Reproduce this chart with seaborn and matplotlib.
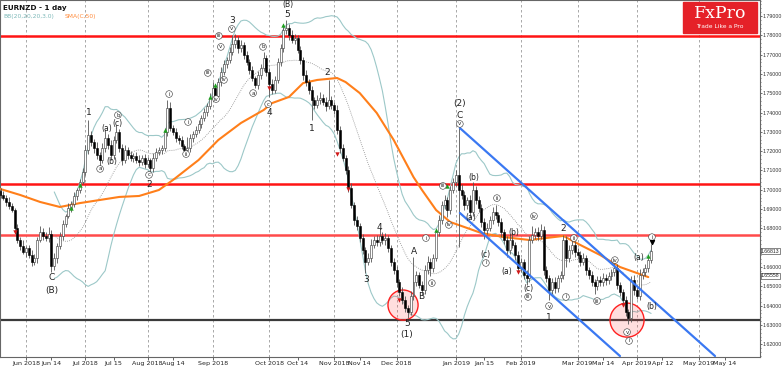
import numpy as np
import pandas as pd
import matplotlib
matplotlib.use("Agg")
import matplotlib.pyplot as plt
from matplotlib.patches import Rectangle
from matplotlib.ticker import MultipleLocator, FuncFormatter
import seaborn as sns

# daily closes EURNZD, 21 May 2018 .. 8 Apr 2019
closes = [
    1.6973, 1.6957, 1.6937, 1.6916, 1.6895, 1.6802, 1.6740, 1.6709, 1.6678, 1.6698,
    1.6662, 1.6626, 1.6647, 1.6740, 1.6781, 1.6761, 1.6750, 1.6771, 1.6605, 1.6647,
    1.6709, 1.6761, 1.6823, 1.6864, 1.6906, 1.6926, 1.6968, 1.6999, 1.7040, 1.7092,
    1.7206, 1.7284, 1.7247, 1.7216, 1.7180, 1.7154, 1.7216, 1.7268, 1.7232, 1.7180,
    1.7258, 1.7299, 1.7216, 1.7154, 1.7206, 1.7180, 1.7165, 1.7175, 1.7154, 1.7144,
    1.7165, 1.7133, 1.7154, 1.7113, 1.7165, 1.7196, 1.7206, 1.7216, 1.7299, 1.7424,
    1.7320, 1.7299, 1.7268, 1.7258, 1.7227, 1.7206, 1.7216, 1.7268, 1.7289, 1.7310,
    1.7341, 1.7372, 1.7403, 1.7434, 1.7475, 1.7527, 1.7486, 1.7558, 1.7610, 1.7651,
    1.7672, 1.7714, 1.7755, 1.7776, 1.7734, 1.7750, 1.7698, 1.7662, 1.7620, 1.7579,
    1.7543, 1.7594, 1.7631, 1.7683, 1.7610, 1.7548, 1.7517, 1.7569, 1.7662, 1.7734,
    1.7828, 1.7838, 1.7802, 1.7776, 1.7786, 1.7724, 1.7672, 1.7594, 1.7558, 1.7517,
    1.7465, 1.7439, 1.7465, 1.7475, 1.7455, 1.7434, 1.7465, 1.7439, 1.7413, 1.7310,
    1.7216, 1.7165, 1.7102, 1.7009, 1.6921, 1.6843, 1.6812, 1.6750, 1.6688, 1.6626,
    1.6647, 1.6714, 1.6740, 1.6729, 1.6761, 1.6740, 1.6750, 1.6698, 1.6626, 1.6584,
    1.6522, 1.6470, 1.6429, 1.6388, 1.6367, 1.6450, 1.6522, 1.6558, 1.6507, 1.6481,
    1.6584, 1.6626, 1.6595, 1.6647, 1.6781, 1.6843, 1.6921, 1.6947, 1.6895, 1.6999,
    1.7040, 1.7076, 1.6999, 1.6973, 1.6921, 1.6947, 1.6885, 1.6999, 1.6947, 1.6906,
    1.6833, 1.6792, 1.6802, 1.6843, 1.6885, 1.6869, 1.6833, 1.6781, 1.6740, 1.6688,
    1.6740, 1.6714, 1.6662, 1.6595, 1.6626, 1.6558, 1.6543, 1.6740, 1.6766, 1.6781,
    1.6761, 1.6792, 1.6584, 1.6543, 1.6481, 1.6522, 1.6491, 1.6543, 1.6558, 1.6740,
    1.6647, 1.6688, 1.6714, 1.6678, 1.6662, 1.6626, 1.6647, 1.6584, 1.6558, 1.6522,
    1.6502, 1.6533, 1.6522, 1.6543, 1.6533, 1.6553, 1.6574, 1.6595, 1.6507, 1.6470,
    1.6429, 1.6367, 1.6336, 1.6533, 1.6481, 1.6450, 1.6558, 1.6574, 1.6595, 1.6636,
    1.6681,
]
open0 = 1.6995

# wick lengths above / below the body, in pips
up_wick = [
    12, 20, 15, 25, 18, 10, 22, 15, 30, 12, 18, 25, 20, 15, 30, 22, 18, 35, 20, 28,
    15, 22, 18, 12, 25, 15, 20, 10, 18, 22, 25, 77, 20, 15, 30, 18, 25, 42, 20, 28,
    22, 37, 15, 20, 25, 18, 22, 15, 20, 28, 15, 20, 18, 12, 25, 20, 15, 18, 22, 41,
    30, 18, 22, 15, 20, 12, 60, 20, 15, 18, 22, 15, 20, 18, 25, 30, 15, 20, 28, 22,
    18, 25, 47, 30, 20, 25, 18, 22, 15, 20, 12, 22, 18, 31, 15, 20, 25, 18, 22, 20,
    25, 41, 20, 28, 22, 15, 20, 18, 25, 15, 20, 18, 25, 30, 22, 28, 104, 20, 15, 25,
    18, 22, 15, 20, 25, 18, 22, 15, 20, 18, 25, 30, 22, 28, 41, 20, 25, 18, 15, 20,
    22, 18, 25, 20, 15, 28, 130, 22, 18, 20, 25, 30, 20, 22, 18, 25, 20, 28, 15, 22,
    20, 25, 244, 30, 22, 18, 25, 40, 20, 22, 18, 22, 25, 20, 28, 36, 18, 22, 15, 20,
    25, 40, 18, 22, 20, 15, 25, 20, 45, 22, 25, 30, 18, 22, 15, 20, 25, 18, 22, 26,
    20, 25, 35, 22, 18, 20, 25, 15, 18, 22, 15, 20, 18, 25, 22, 20, 18, 28, 20, 15,
    18, 22, 15, 20, 25, 18, 30, 20, 22, 25, 36,
]
dn_wick = [
    15, 12, 20, 18, 10, 25, 15, 20, 12, 28, 15, 22, 18, 25, 12, 20, 15, 18, 31, 20,
    25, 15, 20, 18, 12, 22, 15, 20, 18, 12, 15, 20, 18, 25, 22, 30, 15, 18, 22, 25,
    18, 15, 22, 25, 15, 20, 18, 22, 15, 20, 18, 22, 15, 21, 20, 15, 18, 22, 15, 20,
    18, 15, 20, 22, 18, 21, 15, 18, 20, 15, 18, 20, 15, 22, 18, 15, 25, 18, 20, 15,
    20, 15, 18, 22, 25, 18, 20, 15, 22, 18, 15, 20, 18, 15, 22, 67, 20, 18, 15, 22,
    18, 20, 25, 15, 22, 18, 20, 25, 18, 22, 104, 20, 15, 22, 18, 25, 15, 20, 18, 22,
    25, 18, 20, 22, 15, 25, 18, 22, 20, 57, 18, 20, 15, 22, 18, 20, 25, 18, 22, 20,
    25, 18, 22, 20, 31, 18, 22, 20, 15, 25, 20, 18, 40, 22, 15, 20, 18, 22, 35, 20,
    18, 22, 295, 20, 25, 18, 30, 20, 18, 22, 25, 45, 20, 18, 22, 20, 18, 25, 20, 35,
    22, 18, 25, 20, 22, 18, 35, 20, 18, 22, 20, 18, 25, 22, 50, 20, 25, 18, 22, 20,
    45, 22, 18, 25, 20, 22, 18, 25, 20, 22, 40, 20, 18, 22, 25, 20, 18, 22, 20, 18,
    22, 20, 30, 20, 25, 18, 22, 20, 18, 22, 15,
]

# SMA line (bar index, price)
sma_idx = [0, 7, 14, 21, 28, 35, 42, 49, 56, 61, 70, 77, 85, 93, 96, 102, 107, 112,
           119, 122, 127, 133, 139, 146, 149, 154, 159, 165, 170, 178, 187, 199, 205,
           212, 219, 229]
sma_val = [1.7004, 1.6973, 1.6937, 1.6911, 1.6931, 1.6947, 1.6963, 1.6968, 1.6999,
           1.7051, 1.7154, 1.7258, 1.7346, 1.7413, 1.7449, 1.7481, 1.7553, 1.7569,
           1.7579, 1.7558, 1.7501, 1.7398, 1.7258, 1.7066, 1.6999, 1.6895, 1.6833,
           1.6802, 1.6776, 1.6755, 1.6740, 1.6761, 1.6714, 1.6662, 1.6600, 1.6548]

# support / resistance levels
red_levels = [1.7797, 1.7030]
red2_level = 1.6766
black_level = 1.6325

# descending channel (bar index, price)
chan_up_i, chan_up_p = [162.4, 252.6], [1.7320, 1.6139]
chan_lo_i, chan_lo_p = [162.4, 219.0], [1.6880, 1.6139]

# highlight circles
circ_i = [142.3, 221.5]
circ_p = [1.6403, 1.6325]
circ_size = [470, 600]

# arrows
green_i = [25, 28, 58, 74, 76, 100, 154, 158, 229]
green_p = [1.6906, 1.7025, 1.7310, 1.7481, 1.7543, 1.7853, 1.6792, 1.7020, 1.6657]
red_i = [5, 95, 119, 123, 141, 183, 220]
red_p = [1.6781, 1.7527, 1.7185, 1.7004, 1.6429, 1.6574, 1.6403]

# wave labels
wave_txt = ["C", "(B)", "1", "2", "3", "4", "5", "1", "2", "3", "4", "5", "(1)",
            "A", "B", "(2)", "C", "1", "2"]
wave_i = [18.2, 18.2, 31.3, 52.5, 81.8, 94.9, 101.3, 110.1, 115.4, 129.2, 134.1,
          143.7, 143.7, 146.2, 148.6, 162.4, 162.4, 193.9, 198.8]
wave_p = [1.6548, 1.6481, 1.7398, 1.7025, 1.7879, 1.7398, 1.7910, 1.7320, 1.7605,
          1.6533, 1.6807, 1.6310, 1.6248, 1.6683, 1.6445, 1.7449, 1.7387, 1.6341, 1.6797]
top_label, top_label_i = "(B)", 101.6

paren_txt = ["(a)", "(b)", "(c)", "(a)", "(b)", "(c)", "(a)", "(b)", "(c)", "(a)", "(b)"]
paren_i = [37.6, 39.4, 41.2, 166.3, 167.4, 171.6, 179.0, 181.5, 186.5, 225.7, 230.3]
paren_p = [1.7315, 1.7149, 1.7341, 1.6854, 1.7066, 1.6667, 1.6579, 1.6781, 1.6491,
           1.6647, 1.6393]

circ_txt = ["a", "b", "c", "i", "ii", "i", "iii", "iv", "iii", "v", "iv", "v", "a", "b",
            "c", "i", "ii", "iii", "iv", "v", "i", "ii", "iii", "iv", "v", "i", "ii",
            "iii", "iv", "v", "i", "i"]
circ_lab_i = [35.2, 41.5, 52.5, 59.6, 65.6, 66.3, 73.3, 76.2, 77.2, 77.9, 79.0, 81.8,
              89.3, 92.8, 94.6, 150.4, 152.5, 156.4, 158.5, 162.4, 171.6, 175.5, 186.5,
              188.6, 193.9, 199.9, 202.7, 210.9, 217.2, 221.5, 222.2, 230.3]
circ_lab_p = [1.7108, 1.7387, 1.7077, 1.7496, 1.7185, 1.7351, 1.7605, 1.7470, 1.7797,
              1.7740, 1.7569, 1.7833, 1.7501, 1.7740, 1.7444, 1.6750, 1.6517, 1.7020,
              1.6818, 1.7341, 1.6621, 1.6957, 1.6445, 1.6864, 1.6398, 1.6445, 1.6750,
              1.6424, 1.6636, 1.6263, 1.6217, 1.6755]

# price tags on the right axis
tag_vals = [1.66813, 1.65558]

# time axis labels
tick_dates = ["2018-06-01", "2018-06-14", "2018-07-01", "2018-07-15", "2018-08-01",
              "2018-08-14", "2018-09-01", "2018-10-01", "2018-10-14", "2018-11-01",
              "2018-11-14", "2018-12-01", "2019-01-01", "2019-01-15", "2019-02-01",
              "2019-03-01", "2019-03-14", "2019-04-01", "2019-04-12", "2019-05-01",
              "2019-05-14"]
tick_labels = ["Jun 2018", "Jun 14", "Jul 2018", "Jul 15", "Aug 2018", "Aug 14",
               "Sep 2018", "Oct 2018", "Oct 14", "Nov 2018", "Nov 14", "Dec 2018",
               "Jan 2019", "Jan 15", "Feb 2019", "Mar 2019", "Mar 14", "Apr 2019",
               "Apr 12", "May 2019", "May 14"]

# build OHLC
df = pd.DataFrame({"close": closes})
df["open"] = [open0] + closes[:-1]
df["high"] = df[["open", "close"]].max(axis=1) + np.array(up_wick) / 10000
df["low"] = df[["open", "close"]].min(axis=1) - np.array(dn_wick) / 10000
df["idx"] = np.arange(len(df))

# Bollinger bands (20, 2.0)
mid = df["close"].rolling(20).mean()
sd = df["close"].rolling(20).std(ddof=0)
df["bb_mid"] = mid
df["bb_up"] = mid + 2 * sd
df["bb_lo"] = mid - 2 * sd

all_days = pd.bdate_range("2018-05-21", "2019-06-30")
tick_pos = [all_days.searchsorted(pd.Timestamp(d)) for d in tick_dates]

sns.set_style("white")
plt.rcParams["font.family"] = ["DejaVu Sans"]

fig = plt.figure(figsize=(7.82, 3.66), dpi=100)
ax = fig.add_axes([0.0, 9 / 366, 760 / 782, 357 / 366])

# month grid
for pos, lab in zip(tick_pos, tick_labels):
    if "20" in lab:
        ax.axvline(pos, color="#9a9a9a", lw=0.6, ls=(0, (3, 3)), zorder=0)

# levels
for lv in red_levels:
    ax.axhline(lv, color="#ff1414", lw=1.8, zorder=1)
ax.axhline(red2_level, color="#ff4a4a", lw=1.8, zorder=1)
ax.axhline(black_level, color="#3a3a3a", lw=1.6, zorder=1)

# bands
bb = df.dropna()
sns.lineplot(data=bb, x="idx", y="bb_up", color="#9cc8c8", lw=0.8, ax=ax, zorder=2)
sns.lineplot(data=bb, x="idx", y="bb_lo", color="#9cc8c8", lw=0.8, ax=ax, zorder=2)
sns.lineplot(data=bb, x="idx", y="bb_mid", color="#8a8a8a", lw=0.6, ax=ax, zorder=2,
             linestyle=(0, (1, 1.5)))
sns.lineplot(x=sma_idx, y=sma_val, color="#ff7f1a", lw=1.5, ax=ax, zorder=3)

# circles
ax.scatter(circ_i, circ_p, s=circ_size, facecolor=(1, 0.3, 0.3, 0.18),
           edgecolor="#ff2020", lw=1.0, zorder=3)

# candles
up = df["close"] >= df["open"]
ax.vlines(df["idx"], df["low"], df["high"], color="#555555", lw=0.6, zorder=4)
ax.bar(df["idx"][up], (df["close"] - df["open"])[up], bottom=df["open"][up], width=0.7,
       color="white", edgecolor="#333333", lw=0.4, zorder=5)
ax.bar(df["idx"][~up], (df["close"] - df["open"])[~up], bottom=df["open"][~up], width=0.7,
       color="black", edgecolor="black", lw=0.4, zorder=5)

# channel
ax.plot(chan_up_i, chan_up_p, color="#3a78f2", lw=1.6, zorder=6)
ax.plot(chan_lo_i, chan_lo_p, color="#3a78f2", lw=1.6, zorder=6)

ax.scatter(green_i, green_p, marker="^", s=10, color="#1fa01f", zorder=7, lw=0)
ax.scatter(red_i, red_p, marker="v", s=10, color="#d01818", zorder=7, lw=0)

for t, i, p in zip(wave_txt, wave_i, wave_p):
    ax.text(i, p, t, fontsize=6.5, ha="center", va="center", color="#222222", zorder=8)
ax.text(top_label_i, 1.0, top_label, transform=ax.get_xaxis_transform(), fontsize=5.5,
        ha="center", va="top", color="#222222", zorder=8)
for t, i, p in zip(paren_txt, paren_i, paren_p):
    ax.text(i, p, t, fontsize=5.5, ha="center", va="center", color="#222222", zorder=8)
for t, i, p in zip(circ_txt, circ_lab_i, circ_lab_p):
    ax.text(i, p, t, fontsize=4, ha="center", va="center", color="#222222", zorder=8,
            bbox=dict(boxstyle="circle,pad=0.15", fc="white", ec="#333333", lw=0.4))
ax.scatter([230.3], [1.6728], marker="v", s=8, color="black", zorder=8)

ax.set_xlim(-0.18, 268.5)
ax.set_ylim(1.6134, 1.7983)
ax.set_xlabel("")
ax.set_ylabel("")

ax.set_xticks(tick_pos)
ax.set_xticklabels(tick_labels, fontsize=4.6, color="#222222")
ax.tick_params(axis="x", length=2.5, width=0.5, pad=0.5, direction="out", bottom=True)


def price_fmt(v, pos):
    # the 1.67 label sits under the last-price tag, so it is not shown
    if abs(v - 1.67) < 1e-6:
        return ""
    return f"{v:.5f}"


ax.yaxis.tick_right()
ax.yaxis.set_major_locator(MultipleLocator(0.01))
ax.yaxis.set_minor_locator(MultipleLocator(0.002))
ax.yaxis.set_major_formatter(FuncFormatter(price_fmt))
ax.tick_params(axis="y", which="major", labelsize=3.8, length=1.5, width=0.5, pad=0.3,
               colors="#333333", right=True)
ax.tick_params(axis="y", which="minor", length=1.0, width=0.4, right=True)
for lab in ax.get_yticklabels():
    lab.set_family("Liberation Sans")
for sp in ax.spines.values():
    sp.set_color("#666666")
    sp.set_linewidth(0.8)

ytr = ax.get_yaxis_transform()
for val in tag_vals:
    ax.text(1.0015, val, f"{val:.5f}", transform=ytr, fontsize=3.7, va="center", ha="left",
            family="Liberation Sans", color="#222222", clip_on=False, zorder=9,
            bbox=dict(boxstyle="square,pad=0.1", fc="white", ec="#555555", lw=0.5))

# header
ax.text(0.004, 0.985, "EURNZD - 1 day", transform=ax.transAxes, fontsize=5.2,
        fontweight="bold", va="top", ha="left", color="#111111")
ax.text(0.005, 0.962, "BB(20,20,20,3.0)", transform=ax.transAxes, fontsize=4.3,
        va="top", ha="left", color="#7cb8b8")
ax.text(0.085, 0.962, "SMA(C,50)", transform=ax.transAxes, fontsize=4.3,
        va="top", ha="left", color="#ff8a3a")

# logo
fig.patches.append(Rectangle((683 / 782, 1 - 33 / 366), 74 / 782, 31 / 366,
                             transform=fig.transFigure, color="#e52128", zorder=10))
fig.text(720 / 782, 1 - 14 / 366, "FxPro", fontsize=12.5, color="white", ha="center",
         va="center", family="DejaVu Serif", zorder=11)
fig.text(720 / 782, 1 - 27 / 366, "Trade Like a Pro", fontsize=4.3, color="white",
         ha="center", va="center", zorder=11)

fig.savefig("out.png", dpi=100)
